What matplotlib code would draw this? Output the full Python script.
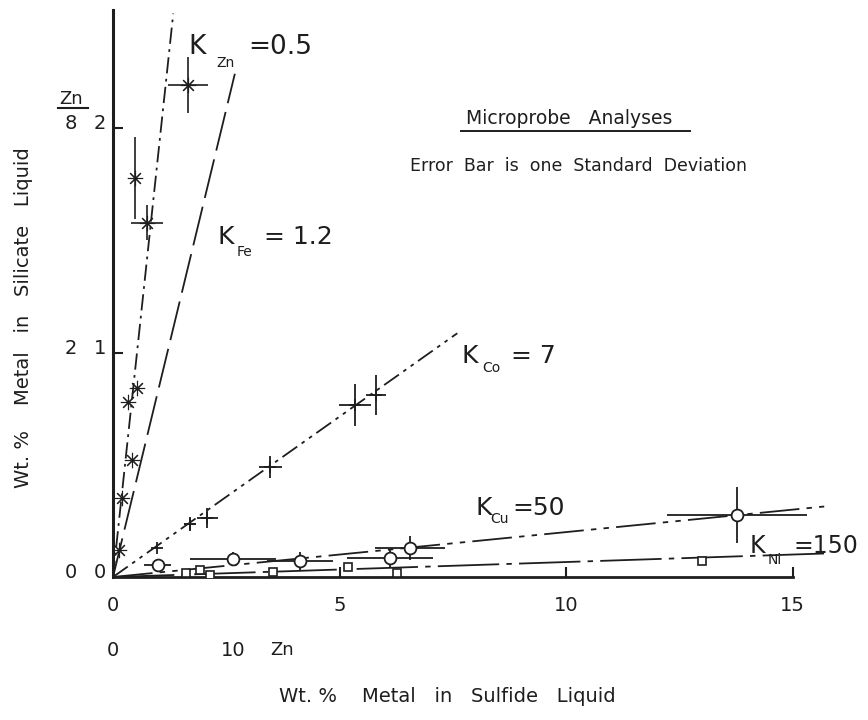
import numpy as np
import matplotlib
matplotlib.use('Agg')
import matplotlib.pyplot as plt
from matplotlib.lines import Line2D

plt.rcParams['font.family'] = ['DejaVu Sans']

# Zn analyses, in wt.% Zn (own scale, drawn on the inner Zn axes)
zn_sulfide = [6.25, 1.83, 2.83, 2.0, 1.25, 1.58, 0.75, 0.5]
zn_silicate = [8.77, 7.11, 6.31, 3.37, 3.12, 2.08, 1.41, 0.48]
zn_sulfide_err = [1.66, 0, 1.37, 0, 0, 0, 0, 0]
zn_silicate_err = [0.5, 0.73, 0.31, 0, 0, 0, 0, 0]

# Co analyses, wt.%
co_sulfide = [0.97, 1.70, 2.08, 3.47, 5.34, 5.81]
co_silicate = [0.129, 0.236, 0.263, 0.49, 0.766, 0.81]
co_sulfide_err = [0, 0.13, 0.23, 0.25, 0.35, 0.22]
co_silicate_err = [0, 0.03, 0.045, 0.048, 0.095, 0.09]

# Cu analyses, wt.%
cu_sulfide = [0.99, 2.65, 4.13, 6.11, 6.56, 13.77]
cu_silicate = [0.055, 0.08, 0.07, 0.086, 0.13, 0.278]
cu_sulfide_err = [0.3, 0.95, 0.73, 0.95, 0.77, 1.55]
cu_silicate_err = [0, 0.03, 0.04, 0.04, 0.053, 0.125]

# Ni analyses, wt.%
ni_sulfide = [1.61, 1.92, 2.14, 3.53, 5.19, 6.27, 13.0]
ni_silicate = [0.02, 0.03, 0.01, 0.024, 0.045, 0.02, 0.073]

# partition lines, K = sulfide / silicate
elements = ['Zn', 'Fe', 'Co', 'Cu', 'Ni']
k_values = [0.5, 1.2, 7, 50, 150]
k_text = ['0.5', '1.2', '7', '50', '150']
line_x_end = [5.02, 2.69, 7.6, 15.7, 15.7]   # Zn one in wt.% Zn

# tick labels
x_ticks = [0, 5, 10, 15]
y_ticks = [0, 1, 2]
zn_x_ticks = [0, 10]
zn_y_labels = ['0', '2', '8']

# Zn scale -> main scale
zn_x_scale = 0.265
zn_y_scale = 0.25

W, H = 868, 720
ink = '#1e1e1e'


def fpos(x, y):
    # pixel position on the page -> figure fraction
    return x / W, 1 - y / H


fig = plt.figure(figsize=(W / 100, H / 100), dpi=100)
ax = fig.add_axes([113 / W, 143 / H, 755 / W, 567 / H])
ax.set_xlim(0, 755 / 45.3)
ax.set_ylim(0, 567 / 224.5)

for s in ['top', 'right']:
    ax.spines[s].set_visible(False)
ax.spines['left'].set_linewidth(2.2)
ax.spines['bottom'].set_linewidth(2.0)
ax.spines['left'].set_color(ink)
ax.spines['bottom'].set_color(ink)
ax.spines['bottom'].set_bounds(0, 15)

ax.set_xticks([5, 10, 15])
ax.set_yticks([1, 2])
ax.tick_params(axis='both', direction='in', length=7, width=1.5, color=ink,
               labelbottom=False, labelleft=False)

# K lines
styles = {
    'Zn': (0, (9, 3, 1.5, 3)),
    'Fe': (0, (22, 5)),
    'Co': (0, (10, 3, 2, 3, 2, 3)),
    'Cu': (0, (22, 4, 3, 4, 3, 4)),
    'Ni': (0, (34, 4, 3, 4)),
}
for el, k, xe in zip(elements, k_values, line_x_end):
    xs = np.array([0, xe])
    ys = xs / k
    if el == 'Zn':
        xs = xs * zn_x_scale
        ys = ys * zn_y_scale
    ax.plot(xs, ys, color=ink, lw=1.3, ls=styles[el], zorder=2, clip_on=False)

# Zn (asterisks)
zx = np.array(zn_sulfide) * zn_x_scale
zy = np.array(zn_silicate) * zn_y_scale
ax.errorbar(zx, zy, xerr=np.array(zn_sulfide_err) * zn_x_scale,
            yerr=np.array(zn_silicate_err) * zn_y_scale,
            fmt='none', ecolor=ink, elinewidth=1.2, capsize=0, zorder=3)
ax.plot(zx, zy, ls='none', marker=(8, 2, 0), ms=11, mew=0.8, color=ink, zorder=4)

# Co (crosses)
ax.errorbar(co_sulfide, co_silicate, xerr=co_sulfide_err, yerr=co_silicate_err,
            fmt='none', ecolor=ink, elinewidth=1.3, capsize=0, zorder=3)
ax.plot(co_sulfide, co_silicate, ls='none', marker='+', ms=9, mew=1.3,
        color=ink, zorder=4)

# Cu (open circles)
ax.errorbar(cu_sulfide, cu_silicate, xerr=cu_sulfide_err, yerr=cu_silicate_err,
            fmt='none', ecolor=ink, elinewidth=1.3, capsize=0, zorder=3)
ax.plot(cu_sulfide, cu_silicate, ls='none', marker='o', ms=8.5, mew=1.3,
        mfc='white', mec=ink, zorder=4)

# Ni (open squares)
ax.plot(ni_sulfide, ni_silicate, ls='none', marker='s', ms=6, mew=1.2,
        mfc='white', mec=ink, zorder=4)

# tick labels, main scale and Zn scale
ytr = ax.get_yaxis_transform()
xtr = ax.get_xaxis_transform()
for v in y_ticks:
    ax.text(-0.0175, v + 0.02, str(v), transform=ytr, ha='center', va='center',
            fontsize=14, color=ink)
for v, lab in zip(y_ticks, zn_y_labels):
    ax.text(-0.056, v + 0.02, lab, transform=ytr, ha='center', va='center',
            fontsize=14, color=ink)
ax.text(-0.056, 2.13, 'Zn', transform=ytr, ha='center', va='center',
        fontsize=13, color=ink)
fig.add_artist(Line2D([58 / W, 88 / W], [1 - 108 / H] * 2, color=ink, lw=1.5))

for v in x_ticks:
    ax.text(v, -0.05, str(v), transform=xtr, ha='center', va='center',
            fontsize=14, color=ink)
for v in zn_x_ticks:
    ax.text(v * zn_x_scale, -0.129, str(v), transform=xtr, ha='center',
            va='center', fontsize=14, color=ink)
ax.text(14.1 * zn_x_scale, -0.129, 'Zn', transform=xtr, ha='center',
        va='center', fontsize=13, color=ink)

# K labels: K x/y, subscript x/y, size, "=" x
label_pos = {
    'Zn': (188, 47, 216, 63, 19, 248, '='),
    'Fe': (217, 237, 237, 252, 18, 264, '= '),
    'Co': (462, 356, 482, 368, 18, 511, '= '),
    'Cu': (475, 508, 490, 519, 18, 512, '='),
    'Ni': (750, 546, 768, 560, 17, 794, '='),
}
for el, kt in zip(elements, k_text):
    kx, ky, sx, sy, fs, ex, sep = label_pos[el]
    fig.text(*fpos(kx, ky), 'K', fontsize=fs, ha='left', va='center', color=ink)
    fig.text(*fpos(sx, sy), el, fontsize=10, ha='left', va='center', color=ink)
    fig.text(*fpos(ex, ky), sep + kt, fontsize=fs, ha='left', va='center', color=ink)

# notes
fig.text(*fpos(466, 119), 'Microprobe   Analyses', fontsize=13.5, ha='left',
         va='center', color=ink)
fig.add_artist(Line2D([461 / W, 690 / W], [1 - 131 / H] * 2, color=ink, lw=1.4))
fig.text(*fpos(410, 166), 'Error  Bar  is  one  Standard  Deviation', fontsize=12.5,
         ha='left', va='center', color=ink)

# axis titles
fig.text(*fpos(447, 697), 'Wt. %    Metal   in   Sulfide   Liquid', fontsize=14,
         ha='center', va='center', color=ink)
fig.text(*fpos(24, 318), 'Wt. %    Metal   in   Silicate   Liquid', fontsize=14,
         ha='center', va='center', rotation=90, color=ink)

fig.savefig('out.png', dpi=100, facecolor='white')
